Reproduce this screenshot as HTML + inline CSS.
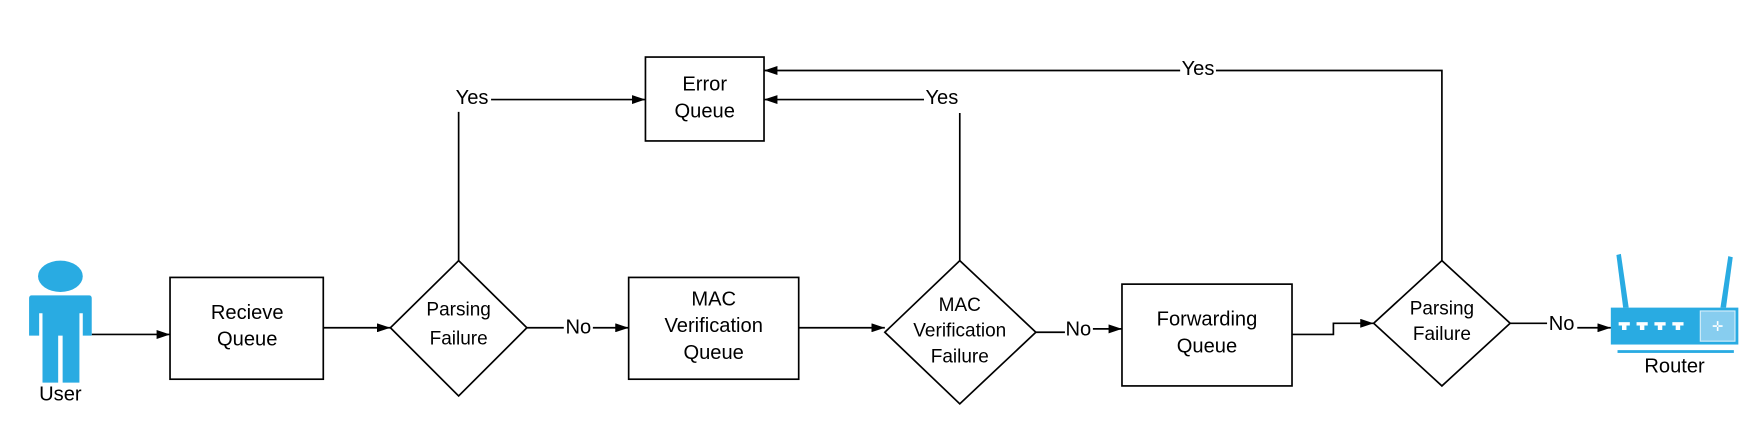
<!DOCTYPE html>
<html><head><meta charset="utf-8"><style>
html,body{margin:0;padding:0;background:#fff;}
svg{display:block;}
text{font-family:"Liberation Sans",sans-serif;fill:#000;text-anchor:middle;}
</style></head><body>
<svg width="1754" height="446" viewBox="0 0 1568 398.7" xmlns="http://www.w3.org/2000/svg">
<defs>
<marker id="a" markerWidth="12" markerHeight="8" refX="12" refY="4" orient="auto" markerUnits="userSpaceOnUse">
<path d="M0,0 L12,4 L0,8 Z" fill="#000"/></marker>
</defs>
<g stroke="#000" stroke-width="1.5" fill="none">
<line x1="82" y1="299" x2="152" y2="299" marker-end="url(#a)"/>
<rect x="152" y="248" width="137" height="91" fill="#fff"/>
<line x1="289" y1="293" x2="349" y2="293" marker-end="url(#a)"/>
<polygon points="410,233 471,293 410,354 349,293" fill="#fff"/>
<polyline points="410,233 410,100"/>
<line x1="439" y1="89" x2="577" y2="89" marker-end="url(#a)"/>
<rect x="577" y="51" width="106" height="75" fill="#fff"/>
<line x1="471" y1="293" x2="504" y2="293"/>
<line x1="530" y1="293" x2="562" y2="293" marker-end="url(#a)"/>
<rect x="562" y="248" width="152" height="91" fill="#fff"/>
<line x1="714" y1="293" x2="791" y2="293" marker-end="url(#a)"/>
<polygon points="858,233 926,297 858,361 791,297" fill="#fff"/>
<polyline points="858,233 858,101"/>
<line x1="826" y1="89" x2="683" y2="89" marker-end="url(#a)"/>
<line x1="926" y1="297" x2="952" y2="297"/>
<line x1="977" y1="294" x2="1003" y2="294" marker-end="url(#a)"/>
<rect x="1003" y="254" width="152" height="91" fill="#fff"/>
<polyline points="1155,299 1192,299 1192,289 1228,289" marker-end="url(#a)"/>
<polygon points="1289,233 1350,289 1289,345 1228,289" fill="#fff"/>
<polyline points="1289,233 1289,63 1087,63"/>
<line x1="1055" y1="63" x2="683" y2="63" marker-end="url(#a)"/>
<line x1="1350" y1="289" x2="1383" y2="289"/>
<line x1="1410" y1="293" x2="1440" y2="293" marker-end="url(#a)"/>
</g>
<g fill="#29abe2">
<ellipse cx="54" cy="247" rx="20" ry="14"/>
<path d="M28,264 H80 Q82,264 82,267 V300 H74 V280 H71 V342 H56 V300 H52 V342 H38 V280 H35 V300 H26 V267 Q26,264 28,264 Z"/>
</g>
<g fill="#29abe2">
<polygon points="1445,228 1449,227 1456,275 1451,275"/>
<polygon points="1545,229 1549,230 1543,275 1538,275"/>
<rect x="1440" y="275" width="114" height="33"/>
<rect x="1446" y="313" width="104" height="2.5"/>
</g>
<rect x="1520" y="278" width="31" height="27" fill="#87cdef" stroke="#d6eefa" stroke-width="1"/>
<g fill="#fff">
<rect x="1447" y="288" width="10" height="3"/><rect x="1450" y="291" width="4" height="4"/>
<rect x="1463" y="288" width="10" height="3"/><rect x="1466" y="291" width="4" height="4"/>
<rect x="1479" y="288" width="10" height="3"/><rect x="1482" y="291" width="4" height="4"/>
<rect x="1495" y="288" width="10" height="3"/><rect x="1498" y="291" width="4" height="4"/>
<text x="1535.5" y="296" style="font-size:12px;fill:#fff">✛</text>
</g>
<g style="font-size:18px">
<text x="54" y="358">User</text>
<text x="221" y="285">Recieve</text>
<text x="221" y="309">Queue</text>
<text x="630" y="81">Error</text>
<text x="630" y="105">Queue</text>
<text x="638" y="273">MAC</text>
<text x="638" y="297">Verification</text>
<text x="638" y="321">Queue</text>
<text x="1079" y="291">Forwarding</text>
<text x="1079" y="315">Queue</text>
<text x="1497" y="333">Router</text>
<text x="422" y="93">Yes</text>
<text x="842" y="93">Yes</text>
<text x="1071" y="67">Yes</text>
<text x="517" y="298">No</text>
<text x="964" y="300">No</text>
<text x="1396" y="295">No</text>
</g>
<g style="font-size:17px">
<text x="410" y="282">Parsing</text>
<text x="410" y="308">Failure</text>
<text x="858" y="278">MAC</text>
<text x="858" y="301">Verification</text>
<text x="858" y="324">Failure</text>
<text x="1289" y="281">Parsing</text>
<text x="1289" y="304">Failure</text>
</g>
</svg>
</body></html>
